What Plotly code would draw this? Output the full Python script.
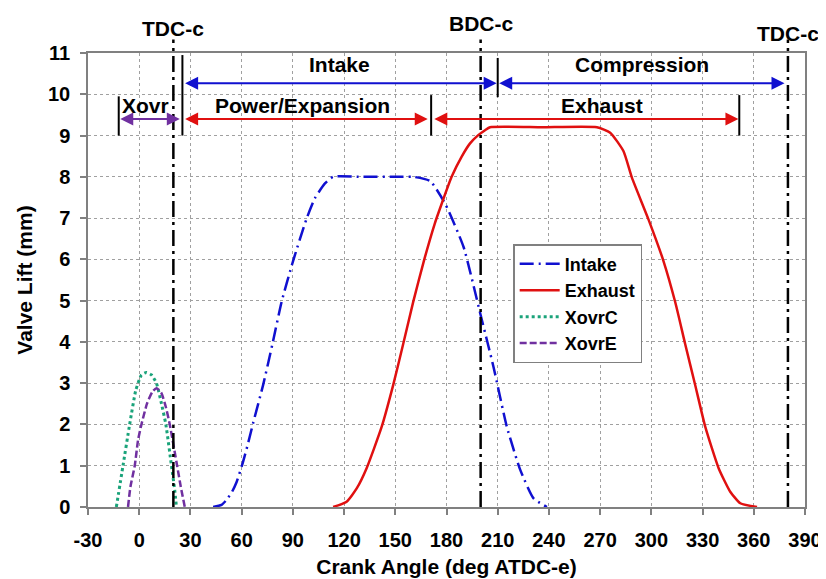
import plotly.graph_objects as go

# ---------------- data ----------------
intake_x = [43.3, 48.2, 51.1, 54.4, 57.0, 60.3, 63.5, 66.7, 72.6, 78.1, 83.4, 90.2, 98.0, 102.9,
            108.8, 113.6, 130.0, 150.0, 160.5, 170.4, 179.2, 190.0, 199.7, 207.5, 215.3, 223.2,
            231.0, 238.8]
intake_y = [0.0, 0.05, 0.17, 0.37, 0.6, 1.02, 1.5, 2.03, 2.96, 3.96, 4.97, 5.97, 6.98, 7.48,
            7.84, 8.0, 8.0, 8.0, 8.0, 7.9, 7.35, 6.3, 4.7, 3.4, 1.95, 0.9,
            0.21, 0.0]

exhaust_x = [113.6, 121.5, 127.4, 133.2, 142.0, 148.8, 154.7, 160.5, 166.8, 173.0, 176.6, 183.0,
             188.9, 193.8, 198.6, 202.6, 205.5, 236.0, 268.1, 275.9, 283.7, 288.6, 298.3, 307.1,
             314.0, 319.8, 325.7, 331.6, 339.4, 346.2, 352.1, 361.9]
exhaust_y = [0.0, 0.13, 0.45, 0.94, 1.94, 2.96, 3.96, 4.97, 5.97, 6.85, 7.28, 8.0,
             8.49, 8.81, 9.01, 9.13, 9.2, 9.2, 9.2, 9.07, 8.62, 7.98, 6.97, 5.96,
             4.96, 3.95, 2.95, 1.94, 0.94, 0.37, 0.09, 0.0]

xovrc_x = [-13.4, -9.5, -5.6, -2.0, 1.3, 4.2, 7.2, 10.1, 13.0, 15.6, 18.9, 20.8, 21.8]
xovrc_y = [0.0, 1.0, 2.0, 2.83, 3.2, 3.26, 3.2, 3.0, 2.51, 2.0, 1.0, 0.41, 0.0]

xovre_x = [-6.55, -5.15, -2.62, -0.68, 1.3, 4.6, 7.7, 10.1, 13.0, 15.55, 17.9, 22.2, 24.35, 26.7]
xovre_y = [0.0, 0.49, 1.0, 1.62, 2.0, 2.51, 2.79, 2.88, 2.76, 2.43, 2.0, 1.0, 0.49, 0.0]

# x tick labels
x_ticks = [-30, 0, 30, 60, 90, 120, 150, 180, 210, 240, 270, 300, 330, 360, 390]
x_tick_labels = ["-30", "0", "30", "60", "90", "120", "150", "180", "210", "240", "270",
                 "300", "330", "360", "390"]

# dead-centre positions and labels
dc_x = [20, 200, 380]
dc_labels = ["TDC-c", "BDC-c", "TDC-c"]
dc_label_y = [1.055, 1.066, 1.044]

# stroke arrows
arrow_start = [26, 210, -12, 26, 172]
arrow_end = [209.4, 378, 23.8, 169, 351]
arrow_y = [10.27, 10.27, 9.4, 9.4, 9.4]
arrow_color = ["#1010d0", "#1010d0", "#7030A0", "#e01010", "#e01010"]

# short phase markers
mark_x = [-12, 25.3, 210, 171, 351.5]
mark_y0 = [9.0, 9.0, 9.93, 9.0, 9.0]
mark_y1 = [9.95, 10.95, 10.88, 9.98, 9.98]

phase_labels = ["Intake", "Compression", "Xovr", "Power/Expansion", "Exhaust"]
phase_x = [117.6, 294.5, 3.8, 95.9, 271.2]
phase_y = [10.71, 10.71, 9.72, 9.72, 9.72]

FONT = "Liberation Sans, Arial, sans-serif"

fig = go.Figure()
fig.add_trace(go.Scatter(x=intake_x, y=intake_y, name="Intake", mode="lines",
                         line=dict(color="#1010d0", width=2.5, dash="14px,5px,2px,5px",
                                   shape="spline", smoothing=0.5)))
fig.add_trace(go.Scatter(x=exhaust_x, y=exhaust_y, name="Exhaust", mode="lines",
                         line=dict(color="#e01010", width=2.5, shape="spline", smoothing=0.5)))
fig.add_trace(go.Scatter(x=xovrc_x, y=xovrc_y, name="XovrC", mode="lines",
                         line=dict(color="#1aa37a", width=3, dash="dot", shape="spline", smoothing=0.5)))
fig.add_trace(go.Scatter(x=xovre_x, y=xovre_y, name="XovrE", mode="lines",
                         line=dict(color="#7030A0", width=2.5, dash="7px,3px", shape="spline", smoothing=0.5)))

shapes = []
for x in dc_x:
    shapes.append(dict(type="line", xref="x", yref="paper", x0=x, x1=x, y0=0, y1=1.03,
                       line=dict(color="black", width=2.5, dash="16px,5px,3px,5px")))
for x, a, b in zip(mark_x, mark_y0, mark_y1):
    shapes.append(dict(type="line", xref="x", yref="y", x0=x, x1=x, y0=a, y1=b,
                       line=dict(color="black", width=2)))

annotations = []
for x, t, yy in zip(dc_x, dc_labels, dc_label_y):
    annotations.append(dict(x=x, y=yy, xref="x", yref="paper", text=t, showarrow=False,
                            xanchor="center", yanchor="middle",
                            font=dict(family=FONT, size=21, color="black", weight="bold")))
for s, e, yy, c in zip(arrow_start, arrow_end, arrow_y, arrow_color):
    annotations.append(dict(x=e, y=yy, ax=s, ay=yy, xref="x", yref="y", axref="x", ayref="y",
                            text="", showarrow=True, arrowside="end+start", arrowhead=2,
                            arrowsize=1.3, arrowwidth=2, arrowcolor=c, standoff=0, startstandoff=0))
for t, x, yy in zip(phase_labels, phase_x, phase_y):
    annotations.append(dict(x=x, y=yy, xref="x", yref="y", text=t, showarrow=False,
                            xanchor="center", yanchor="middle",
                            font=dict(family=FONT, size=21, color="black", weight="bold")))

axis_common = dict(showgrid=True, gridcolor="#a0a0a0", griddash="dot", gridwidth=1,
                   showline=True, linecolor="#808080", linewidth=1.5, mirror=True,
                   ticks="outside", ticklen=6, tickcolor="#808080", tickwidth=1.5,
                   zeroline=False, automargin=False,
                   tickfont=dict(family=FONT, size=20, color="black", weight="bold"))

# page body has an 8px margin, so the figure is sized to fit the remaining window
fig.update_layout(
    width=818, height=571,
    margin=dict(l=80, r=21, t=45, b=72),
    paper_bgcolor="white", plot_bgcolor="white",
    font=dict(family=FONT, color="black"),
    xaxis=dict(range=[-30, 390], tickmode="array", tickvals=x_ticks, ticktext=x_tick_labels,
               ticklabelstandoff=8,
               title=dict(text="Crank Angle (deg ATDC-e)", standoff=10,
                          font=dict(family=FONT, size=21, color="black", weight="bold")),
               **axis_common),
    yaxis=dict(range=[0, 11], tick0=0, dtick=1, ticklabelstandoff=6,
               title=dict(text="Valve Lift (mm)", standoff=10,
                          font=dict(family=FONT, size=21, color="black", weight="bold")),
               **axis_common),
    legend=dict(x=0.593, y=0.579, xanchor="left", yanchor="top",
                bgcolor="white", bordercolor="#808080", borderwidth=1.5,
                font=dict(family=FONT, size=18, color="black", weight="bold"),
                itemwidth=40, tracegroupgap=0),
    shapes=shapes,
    annotations=annotations,
)

fig.write_html("out.html")
